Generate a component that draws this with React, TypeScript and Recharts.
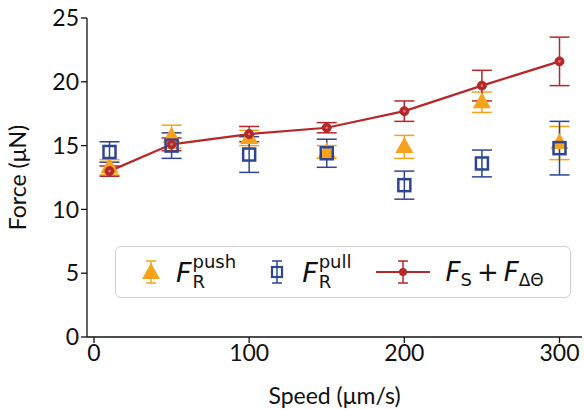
import React from "react";
import { ComposedChart, Line, Scatter, XAxis, YAxis, ErrorBar } from "recharts";

const speeds = [10, 50, 100, 150, 200, 250, 300];
const pushForce = [13.3, 15.7, 15.6, 14.5, 14.9, 18.4, 15.2];
const pushErr = [0.6, 0.9, 0.6, 0.5, 0.9, 0.8, 1.3];
const pullForce = [14.5, 15.0, 14.3, 14.4, 11.9, 13.6, 14.8];
const pullErr = [0.8, 1.0, 1.4, 1.1, 1.1, 1.05, 2.1];
const totalForce = [13.0, 15.1, 15.9, 16.4, 17.7, 19.7, 21.6];
const totalErr = [0.4, 0.5, 0.6, 0.4, 0.8, 1.2, 1.9];
const xTicks = [0, 100, 200, 300];
const yTicks = [0, 5, 10, 15, 20, 25];

const ORANGE = "#f7a21b";
const BLUE = "#2e4593";
const RED = "#b5282a";
const FONT = "Lato, 'Open Sans', sans-serif";
const MATH = "'DejaVu Sans', sans-serif";

const data = speeds.map((s, i) => ({
    speed: s,
    push: pushForce[i],
    pushErr: pushErr[i],
    pull: pullForce[i],
    pullErr: pullErr[i],
    total: totalForce[i],
    totalErr: totalErr[i],
}));

const Triangle = (p: any) => (
    <polygon points={`${p.cx},${p.cy - 10} ${p.cx - 9},${p.cy + 6} ${p.cx + 9},${p.cy + 6}`} fill={ORANGE} />
);
const Square = (p: any) => (
    <rect x={p.cx - 6} y={p.cy - 6} width={12} height={12} fill="none" stroke={BLUE} strokeWidth={2.5} />
);
const RedDot = (p: any) => (
    <g key={p.index}>
        <circle cx={p.cx} cy={p.cy} r={4.5} fill={RED} stroke={RED} strokeWidth={1} />
        <circle cx={p.cx} cy={p.cy} r={1.3} fill="#d9777a" />
    </g>
);

function Label({ sup, sub }: { sup?: string; sub: string }) {
    return (
        <span style={{ display: "inline-flex", alignItems: "center", fontFamily: MATH, color: "#111" }}>
            <span style={{ fontStyle: "italic", fontSize: 27 }}>F</span>
            <span style={{ display: "inline-flex", flexDirection: "column", fontSize: 18, lineHeight: "20px", marginLeft: 1 }}>
                <span>{sup}</span>
                <span>{sub}</span>
            </span>
        </span>
    );
}

function LegendBox() {
    return (
        <div style={{ position: "absolute", left: 115, top: 246, width: 456, height: 52, display: "flex", alignItems: "center", border: "1.5px solid #cfcfcf", borderRadius: 6, background: "#fff", boxSizing: "border-box" }}>
            <svg width={30} height={30} style={{ marginLeft: 20 }}>
                <line x1={15} y1={4} x2={15} y2={26} stroke={ORANGE} strokeWidth={1.5} />
                <line x1={10} y1={4} x2={20} y2={4} stroke={ORANGE} strokeWidth={1.5} />
                <line x1={10} y1={26} x2={20} y2={26} stroke={ORANGE} strokeWidth={1.5} />
                <polygon points="15,6 6,22 24,22" fill={ORANGE} />
            </svg>
            <span style={{ marginLeft: 10 }}><Label sup="push" sub="R" /></span>
            <svg width={30} height={30} style={{ marginLeft: 26 }}>
                <line x1={15} y1={4} x2={15} y2={26} stroke={BLUE} strokeWidth={1.5} />
                <line x1={10} y1={4} x2={20} y2={4} stroke={BLUE} strokeWidth={1.5} />
                <line x1={10} y1={26} x2={20} y2={26} stroke={BLUE} strokeWidth={1.5} />
                <rect x={10} y={10} width={10} height={10} fill="none" stroke={BLUE} strokeWidth={2.2} />
            </svg>
            <span style={{ marginLeft: 10 }}><Label sup="pull" sub="R" /></span>
            <svg width={54} height={30} style={{ marginLeft: 24 }}>
                <line x1={0} y1={15} x2={54} y2={15} stroke={RED} strokeWidth={2} />
                <line x1={27} y1={4} x2={27} y2={26} stroke={RED} strokeWidth={1.5} />
                <line x1={22} y1={4} x2={32} y2={4} stroke={RED} strokeWidth={1.5} />
                <line x1={22} y1={26} x2={32} y2={26} stroke={RED} strokeWidth={1.5} />
                <circle cx={27} cy={15} r={4} fill={RED} />
            </svg>
            <span style={{ marginLeft: 16, display: "inline-flex", alignItems: "baseline", fontFamily: MATH, color: "#111", fontSize: 26 }}>
                <span style={{ fontStyle: "italic" }}>F</span>
                <span style={{ fontSize: 18, position: "relative", top: 5 }}>S</span>
                <span style={{ margin: "0 5px" }}>+</span>
                <span style={{ fontStyle: "italic" }}>F</span>
                <span style={{ fontSize: 17, position: "relative", top: 5 }}>ΔΘ</span>
            </span>
        </div>
    );
}

export default function App() {
    const tickStyle = { fill: "#111", fontSize: 23, fontFamily: FONT };
    return (
        <div style={{ position: "absolute", left: 0, top: 0, width: 585, height: 410, background: "#fff" }}>
            <ComposedChart width={585} height={410} data={data} margin={{ top: 18, right: 3, left: 0, bottom: 0 }}>
                <XAxis dataKey="speed" type="number" domain={[-4.5, 314.5]} ticks={xTicks} allowDataOverflow
                    height={73} tick={tickStyle} tickSize={6} stroke="#111" strokeWidth={1.3}
                    label={{ value: "Speed (μm/s)", position: "insideBottom", offset: 6, style: { fill: "#111", fontSize: 23, fontFamily: FONT } }} />
                <XAxis xAxisId="top" orientation="top" dataKey="speed" type="number" domain={[-4.5, 314.5]} height={0} tick={false} tickLine={false} stroke="#111" strokeWidth={1.3} />
                <YAxis type="number" domain={[0, 25]} ticks={yTicks} width={87} tick={tickStyle} tickSize={6} stroke="#111" strokeWidth={1.3}
                    label={{ value: "Force (μN)", angle: -90, position: "insideLeft", offset: 6, dx: 12, style: { textAnchor: "middle", fill: "#111", fontSize: 23, fontFamily: FONT } }} />
                <YAxis yAxisId="right" orientation="right" domain={[0, 25]} width={0} tick={false} tickLine={false} stroke="#111" strokeWidth={1.3} />
                <Scatter dataKey="push" shape={Triangle} isAnimationActive={false}>
                    <ErrorBar dataKey="pushErr" direction="y" width={10} stroke={ORANGE} strokeWidth={1.5} />
                </Scatter>
                <Scatter dataKey="pull" shape={Square} isAnimationActive={false}>
                    <ErrorBar dataKey="pullErr" direction="y" width={10} stroke={BLUE} strokeWidth={1.5} />
                </Scatter>
                <Line dataKey="total" stroke={RED} strokeWidth={2.2} dot={RedDot} activeDot={false} isAnimationActive={false}>
                    <ErrorBar dataKey="totalErr" direction="y" width={10} stroke={RED} strokeWidth={1.5} />
                </Line>
            </ComposedChart>
            <LegendBox />
        </div>
    );
}
